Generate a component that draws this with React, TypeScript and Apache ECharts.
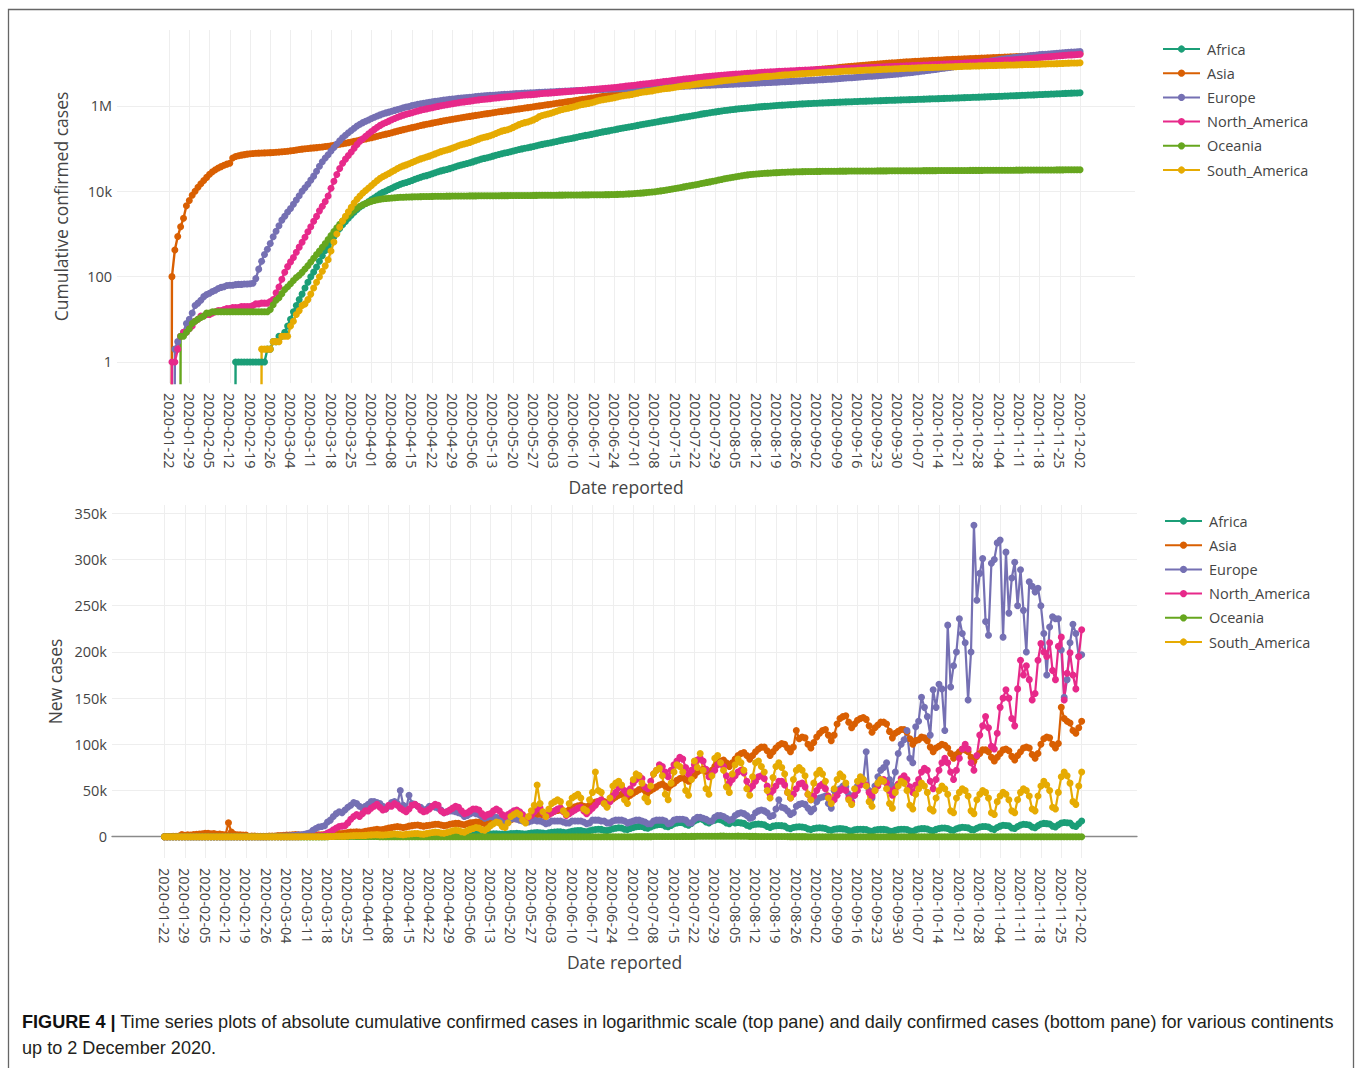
import { useEffect, useRef } from "react";
import * as echarts from "echarts";

// ---------- categories ----------
const START_UTC = Date.UTC(2020, 0, 22); // 2020-01-22
const N_DAYS = 316; // 2020-01-22 .. 2020-12-02
const PAD_BEFORE = 18;
const PAD_AFTER = 19;

const continents = ["Africa", "Asia", "Europe", "North_America", "Oceania", "South_America"];
const palette = ["#1b9e77", "#d95f02", "#7570b3", "#e7298a", "#66a61e", "#e6ab02"];

// ---------- daily new confirmed cases (one row = one week, Wed..Tue) ----------
const africaNew = [
  0,0,0,0,0,0,0,
  0,0,0,0,0,0,0,
  0,0,0,0,0,0,0,
  0,0,1,0,0,0,0,
  0,0,0,0,0,0,1,
  0,1,0,1,0,1,2,
  3,5,6,8,10,15,20,
  25,30,40,60,80,100,120,
  150,180,220,260,300,330,380,
  420,480,500,520,480,450,550,
  650,700,800,850,750,700,800,
  850,900,950,900,800,750,850,
  1000,1100,1200,1150,1000,900,1100,
  1300,1400,1500,1450,1300,1200,1400,
  1700,1900,2000,1900,1700,1600,1900,
  2300,2600,2700,2600,2300,2100,2500,
  2900,3100,3200,3000,2800,2600,3000,
  3400,3600,3800,3600,3300,3000,3500,
  4000,4300,4500,4400,4000,3600,4200,
  4800,5200,5500,5300,4700,4400,5200,
  6000,6400,6800,6600,5800,5400,6400,
  7200,7800,8200,8000,7000,6600,7600,
  8600,9200,9700,9400,8200,7800,9000,
  10000,10800,11200,11000,9800,9200,10500,
  12000,12800,13200,13000,11500,10800,12200,
  14000,14800,15500,15200,13500,12500,14500,
  17000,18500,19500,18500,16000,15000,17000,
  18000,19000,18500,17000,15000,14000,16000,
  15000,15500,15000,14500,12500,11500,13000,
  13500,13800,13500,13000,11000,10000,11500,
  12000,12200,12000,11500,9500,8800,10000,
  10500,10800,10500,10000,8500,7800,9000,
  9500,9800,9500,9000,7500,7000,8200,
  8500,8800,8500,8200,6800,6200,7500,
  8000,8200,8000,7800,6400,6000,7200,
  7800,8000,8000,7600,6200,5800,7000,
  7800,8200,8200,7800,6400,6000,7400,
  8400,8800,8800,8400,7000,6500,8000,
  9000,9500,9400,9000,7400,7000,8600,
  9600,10200,10000,9600,8000,7500,9200,
  10500,11000,11000,10500,8600,8000,10000,
  11500,12500,12200,11800,9500,9000,11000,
  12800,13500,13200,12800,10500,9800,12000,
  13800,14500,14200,13800,11500,10500,13000,
  14800,15500,15200,14800,12000,11000,14000,
  17000,
];

const asiaNew = [
  0,100,320,450,610,850,2270,
  1500,2000,1900,2400,2700,2900,3200,
  3800,3700,3200,3400,2600,3000,2500,
  2000,15100,5100,2700,2100,2100,1900,
  1800,600,900,700,600,500,500,
  600,700,800,900,1200,1300,1500,
  1800,1900,2200,2400,2200,1900,1700,
  1600,1500,1600,1800,2000,2200,2500,
  2800,3000,3400,3800,3600,3500,3900,
  4500,5000,5200,5500,5000,5200,5800,
  6500,7000,7500,8000,7500,7800,8500,
  9500,10000,10500,11000,10500,10000,10500,
  11500,12000,12500,12800,12000,11500,12000,
  12500,13000,13500,13500,12800,12000,12500,
  13500,14000,14500,14500,13500,13000,14000,
  15000,15500,16000,16000,15000,14500,15500,
  16500,17000,17500,17500,16500,16000,17000,
  18500,19500,20500,21000,20000,19500,20500,
  22000,23000,24000,24500,23500,23000,24500,
  26000,27500,28500,29000,28000,27500,29000,
  31000,32500,33500,34000,33000,32500,34000,
  36000,37500,38500,39000,38000,37000,39000,
  41000,43000,45000,46000,44000,43000,45000,
  47000,49000,51000,52000,50000,48000,50000,
  52000,54000,56000,57000,55000,53000,56000,
  58000,61000,63000,64000,62000,60000,63000,
  66000,70000,72000,73000,71000,68000,72000,
  76000,80000,82000,83000,80000,76000,80000,
  84000,88000,90000,91000,88000,84000,88000,
  92000,95000,97000,97000,93000,88000,92000,
  96000,99000,101000,100000,96000,92000,97000,
  115000,106000,108000,107000,100000,96000,102000,
  108000,112000,115000,116000,110000,104000,110000,
  122000,128000,130000,131000,124000,118000,122000,
  126000,128000,129000,127000,120000,113000,118000,
  121000,124000,124000,122000,114000,107000,112000,
  114000,116000,116000,113000,106000,100000,104000,
  105000,108000,107000,104000,97000,92000,96000,
  98000,100000,99000,96000,90000,85000,89000,
  92000,95000,94000,92000,86000,82000,87000,
  90000,94000,94000,92000,86000,82000,86000,
  90000,94000,95000,93000,87000,83000,88000,
  92000,96000,97000,96000,89000,85000,90000,
  100000,106000,108000,107000,100000,96000,101000,
  140000,128000,125000,123000,115000,112000,118000,
  125000,
];

const europeNew = [
  0,0,2,1,1,1,3,
  2,4,7,3,4,6,4,
  3,4,3,5,3,2,4,
  1,0,2,1,0,1,0,
  1,2,20,60,80,100,110,
  160,260,300,400,550,500,650,
  700,1000,1300,1600,2200,2000,2600,
  3600,4400,7000,9000,10500,11000,12000,
  16000,18000,22000,25000,27000,26000,29000,
  32000,34000,37000,36000,33000,31000,33000,
  35000,38000,38000,37000,36000,33000,30000,
  33000,37000,38000,36000,50000,34000,30000,
  45000,36000,35000,33000,32000,28000,30000,
  33000,33000,32000,31000,29000,26000,27000,
  28000,28000,27000,26000,25000,22000,23000,
  25000,26000,25000,24000,22000,20000,21000,
  22000,21000,21000,20000,19000,17000,18000,
  19000,20000,19000,18000,17000,16000,16000,
  17000,18000,17000,17000,16000,14000,15000,
  17000,17000,17000,17000,16000,15000,15000,
  17000,17000,17000,17000,16000,14000,15000,
  18000,18000,18000,17000,17000,15000,15000,
  17000,18000,18000,18000,17000,15000,16000,
  17000,18000,18000,17000,16000,14000,14000,
  17000,18000,18000,18000,17000,14000,15000,
  18000,19000,19000,19000,18000,15000,15000,
  19000,21000,21000,20000,19000,17000,17000,
  21000,23000,23000,22000,20000,18000,19000,
  23000,25000,26000,25000,23000,20000,21000,
  26000,28000,29000,28000,26000,22000,23000,
  30000,40000,32000,31000,28000,24000,26000,
  33000,35000,36000,35000,31000,27000,30000,
  38000,42000,43000,44000,36000,31000,50000,
  48000,52000,55000,54000,46000,38000,45000,
  55000,60000,62000,92000,50000,42000,55000,
  65000,72000,75000,80000,62000,55000,70000,
  90000,100000,105000,115000,85000,80000,119000,
  125000,151000,140000,130000,110000,159000,140000,
  165000,160000,115000,229000,162000,185000,200000,
  236000,220000,210000,148000,200000,337000,256000,
  285000,301000,233000,218000,296000,300000,318000,
  321000,216000,308000,242000,280000,297000,250000,
  289000,245000,200000,276000,271000,265000,269000,
  250000,220000,175000,227000,238000,236000,236000,
  202000,151000,170000,210000,230000,220000,195000,
  197000,
];

const northAmericaNew = [
  0,1,0,1,2,1,0,
  1,1,2,1,2,0,1,
  0,1,1,1,0,1,1,
  0,1,0,0,1,0,0,
  0,1,2,0,1,0,0,
  2,3,13,15,30,40,45,
  50,60,90,120,150,200,290,
  350,500,600,900,1000,1300,2000,
  4000,5500,7500,9500,11000,11500,12000,
  15000,19000,22000,24000,22000,25000,28000,
  28000,31000,33000,35000,32000,29000,30000,
  34000,33000,36000,34000,31000,29000,27000,
  30000,34000,35000,33000,29000,27000,28000,
  30000,33000,35000,34000,28000,26000,27000,
  29000,31000,33000,32000,28000,25000,26000,
  28000,30000,30000,29000,25000,22000,24000,
  25000,28000,30000,28000,24000,22000,24000,
  26000,28000,29000,27000,24000,21000,21000,
  23000,27000,30000,31000,26000,22000,24000,
  26000,28000,30000,31000,27000,23000,25000,
  27000,29000,31000,32000,28000,25000,28000,
  31000,34000,38000,40000,36000,33000,38000,
  44000,48000,53000,55000,50000,46000,52000,
  58000,62000,66000,63000,54000,52000,60000,
  68000,72000,78000,76000,70000,65000,72000,
  78000,82000,86000,84000,75000,68000,72000,
  78000,83000,85000,82000,73000,65000,68000,
  72000,78000,80000,76000,66000,58000,62000,
  66000,70000,72000,69000,60000,52000,55000,
  60000,65000,66000,63000,55000,46000,50000,
  55000,60000,60000,56000,48000,42000,46000,
  52000,57000,58000,54000,46000,40000,44000,
  50000,55000,57000,52000,44000,38000,40000,
  45000,50000,52000,50000,42000,37000,45000,
  50000,56000,58000,56000,48000,44000,50000,
  55000,60000,62000,58000,50000,45000,52000,
  57000,63000,66000,62000,54000,48000,56000,
  62000,70000,74000,72000,60000,52000,62000,
  72000,80000,85000,80000,70000,62000,72000,
  85000,95000,100000,95000,80000,72000,88000,
  110000,120000,130000,118000,98000,95000,112000,
  140000,150000,159000,150000,128000,120000,160000,
  191000,175000,185000,170000,148000,155000,191000,
  209000,200000,195000,210000,180000,170000,206000,
  216000,148000,177000,199000,175000,160000,195000,
  224000,
];

const oceaniaNew = [
  0,0,0,0,4,0,1,
  1,2,1,1,1,1,2,
  0,1,0,0,0,0,0,
  0,0,0,0,0,0,0,
  0,0,0,0,0,0,0,
  2,5,6,4,8,10,8,
  10,13,15,12,18,25,30,
  40,50,60,70,90,110,140,
  180,220,250,300,330,350,380,
  420,450,440,400,380,350,330,
  300,270,230,200,150,120,110,
  100,90,80,60,50,40,40,
  40,40,35,30,30,25,25,
  25,20,20,18,15,15,15,
  15,15,15,12,12,10,12,
  12,12,10,10,8,8,10,
  10,12,10,10,8,8,10,
  12,12,10,10,10,8,10,
  12,14,12,10,10,10,12,
  12,14,12,12,10,10,12,
  14,16,15,14,12,12,15,
  15,15,18,20,15,15,20,
  30,40,50,60,60,70,80,
  90,100,110,120,130,140,150,
  180,200,230,250,270,280,290,
  320,340,360,380,370,360,380,
  420,450,480,500,500,480,500,
  560,620,660,650,600,560,540,
  580,650,620,580,500,420,380,
  380,360,320,300,280,260,240,
  230,220,200,190,170,150,140,
  130,120,110,100,90,80,70,
  70,60,60,55,50,45,45,
  40,40,35,35,30,30,35,
  35,30,30,30,25,25,30,
  30,30,25,25,25,20,25,
  25,30,30,25,20,20,25,
  25,30,25,25,20,20,25,
  30,30,30,25,25,20,25,
  25,30,30,25,20,20,25,
  25,30,30,30,25,20,25,
  30,30,35,30,25,25,30,
  30,35,35,30,25,25,30,
  30,35,35,30,30,25,30,
  35,35,35,30,30,25,30,
  30,
];

const southAmericaNew = [
  0,0,0,0,0,0,0,
  0,0,0,0,0,0,0,
  0,0,0,0,0,0,0,
  0,0,0,0,0,0,0,
  0,0,0,0,2,0,0,
  0,1,0,0,1,0,0,
  3,2,4,3,5,2,6,
  10,15,20,25,35,45,70,
  150,250,350,450,550,600,700,
  900,1100,1200,1300,1300,1300,1500,
  1800,2000,2200,2300,2000,1800,2100,
  2500,2700,2900,2800,2400,2200,2600,
  3000,3300,3600,3500,3000,2800,3400,
  4000,4500,5000,4800,4000,3800,4600,
  5500,6500,7000,6800,5500,5000,6500,
  8000,9000,10000,9500,7500,7000,9000,
  12000,14000,16000,15000,11000,10000,15000,
  22000,24000,26000,24000,18000,15000,22000,
  28000,34000,56000,36000,27000,22000,30000,
  36000,38000,40000,38000,28000,24000,36000,
  42000,44000,46000,42000,30000,28000,40000,
  48000,70000,50000,48000,36000,32000,42000,
  55000,58000,60000,56000,40000,36000,48000,
  62000,68000,66000,58000,42000,38000,55000,
  68000,72000,74000,66000,46000,40000,58000,
  70000,78000,76000,70000,50000,45000,62000,
  82000,75000,90000,72000,52000,46000,66000,
  85000,88000,80000,72000,54000,48000,68000,
  78000,84000,80000,72000,52000,45000,65000,
  80000,82000,76000,70000,50000,42000,64000,
  76000,80000,75000,68000,48000,42000,62000,
  72000,75000,72000,66000,46000,40000,58000,
  68000,72000,68000,60000,42000,36000,52000,
  62000,68000,65000,58000,40000,35000,52000,
  60000,65000,62000,55000,38000,33000,50000,
  58000,62000,60000,52000,36000,31000,48000,
  55000,60000,58000,50000,34000,30000,46000,
  52000,58000,55000,48000,30000,28000,42000,
  50000,55000,52000,46000,28000,26000,42000,
  48000,52000,50000,44000,28000,25000,40000,
  46000,50000,48000,42000,26000,24000,38000,
  44000,48000,46000,40000,28000,26000,40000,
  48000,52000,50000,44000,30000,28000,44000,
  55000,60000,56000,50000,32000,30000,48000,
  65000,70000,66000,58000,38000,35000,55000,
  70000,
];

const newCasesByContinent = [africaNew, asiaNew, europeNew, northAmericaNew, oceaniaNew, southAmericaNew];

const captionBold = "FIGURE 4 |";
const captionText =
  " Time series plots of absolute cumulative confirmed cases in logarithmic scale (top pane) and daily confirmed cases (bottom pane) for various continents";
const captionLine2 = "up to 2 December 2020.";

// ---------- helpers ----------
function buildDates(): string[] {
  const out: string[] = [];
  for (let i = -PAD_BEFORE; i < N_DAYS + PAD_AFTER; i++) {
    out.push(new Date(START_UTC + i * 86400000).toISOString().slice(0, 10));
  }
  return out;
}
const isWeeklyTick = (idx: number) => {
  const k = idx - PAD_BEFORE;
  return k >= 0 && k < N_DAYS && k % 7 === 0;
};
const LOG_ZERO = 1e-30; // zero drawn far below the visible log range (clipped), as plotly does

const AXIS_FONT = { fontFamily: "Open Sans", fontSize: 14.5, color: "#444" };
const TITLE_FONT = { fontFamily: "Open Sans", fontSize: 17.5, color: "#444" };
const GRID_LINE = { color: "#eeeeee", width: 1 };

function buildOption() {
  const dates = buildDates();
  const pad = new Array(PAD_BEFORE).fill(null);

  const topSeries = continents.map((name, i) => {
    let c = 0;
    const cum = newCasesByContinent[i].map((v) => {
      c += v;
      return c > 0 ? c : LOG_ZERO;
    });
    return {
      name,
      type: "line",
      xAxisIndex: 0,
      yAxisIndex: 0,
      data: [...pad, ...cum],
      symbol: "circle",
      symbolSize: 7,
      showAllSymbol: true,
      clip: true,
      lineStyle: { width: 2.4, color: palette[i] },
      itemStyle: { color: palette[i], borderWidth: 0 },
      emphasis: { disabled: true },
    };
  });

  const bottomSeries = continents.map((name, i) => ({
    name,
    type: "line",
    xAxisIndex: 1,
    yAxisIndex: 1,
    data: [...pad, ...newCasesByContinent[i]],
    symbol: "circle",
    symbolSize: 7,
    showAllSymbol: true,
    clip: true,
    lineStyle: { width: 2.2, color: palette[i] },
    itemStyle: { color: palette[i], borderWidth: 0 },
    emphasis: { disabled: true },
  }));

  const xAxisBase = {
    type: "category",
    data: dates,
    boundaryGap: false,
    axisTick: { show: false },
    splitLine: { show: true, interval: (i: number) => isWeeklyTick(i), lineStyle: GRID_LINE },
    name: "Date reported",
    nameLocation: "middle",
    nameTextStyle: TITLE_FONT,
  };

  const legendBase = {
    orient: "vertical",
    data: continents,
    itemWidth: 37,
    itemHeight: 9,
    itemGap: 8.2,
    padding: 0,
    selectedMode: false,
    textStyle: { ...AXIS_FONT, lineHeight: 16, padding: [0, 0, 0, 2] },
  };

  const fmtLog = (v: number) => {
    if (v >= 1e6) return Math.round(v / 1e6) + "M";
    if (v >= 1e3) return Math.round(v / 1e3) + "k";
    return String(Math.round(v));
  };

  return {
    animation: false,
    backgroundColor: "#ffffff",
    textStyle: { fontFamily: "Open Sans" },
    grid: [
      { left: 117, right: 223, top: 30, height: 353 },
      { left: 112, right: 221, top: 505, height: 353 },
    ],
    xAxis: [
      {
        ...xAxisBase,
        gridIndex: 0,
        axisLine: { show: false },
        axisLabel: { ...AXIS_FONT, rotate: -90, margin: 10, interval: (i: number) => isWeeklyTick(i) },
        nameGap: 95,
      },
      {
        ...xAxisBase,
        gridIndex: 1,
        axisLine: { show: true, onZero: true, lineStyle: { color: "#8a8a8a", width: 1.3 } },
        axisLabel: { ...AXIS_FONT, rotate: -90, margin: 10, interval: (i: number) => isWeeklyTick(i) },
        nameGap: 95,
      },
    ],
    yAxis: [
      {
        type: "log",
        logBase: 100,
        gridIndex: 0,
        min: 0.322,
        max: 6.03e7,
        axisLine: { show: false },
        axisTick: { show: false },
        axisLabel: { ...AXIS_FONT, margin: 5, formatter: fmtLog, showMinLabel: false, showMaxLabel: false },
        splitLine: { show: true, lineStyle: GRID_LINE, showMinLine: false, showMaxLine: false },
        name: "Cumulative confirmed cases",
        nameLocation: "middle",
        nameGap: 47,
        nameTextStyle: TITLE_FONT,
      },
      {
        type: "value",
        gridIndex: 1,
        min: -23000,
        max: 359000,
        splitNumber: 8,
        minInterval: 50000,
        maxInterval: 50000,
        axisLine: { show: false },
        axisTick: { show: false },
        axisLabel: {
          ...AXIS_FONT,
          margin: 5,
          showMinLabel: false,
          showMaxLabel: false,
          formatter: (v: number) => (v === 0 ? "0" : v / 1000 + "k"),
        },
        splitLine: { show: true, lineStyle: GRID_LINE, showMinLine: false, showMaxLine: false },
        name: "New cases",
        nameLocation: "middle",
        nameGap: 47,
        nameTextStyle: TITLE_FONT,
      },
    ],
    legend: [
      { ...legendBase, left: 1162, top: 41 },
      { ...legendBase, left: 1164, top: 513 },
    ],
    graphic: [
      {
        type: "rect",
        silent: true,
        z: -10,
        shape: { x: 8.5, y: 9.5, width: 1345, height: 1100 },
        style: { fill: "none", stroke: "#666666", lineWidth: 1.3 },
      },
      {
        type: "text",
        silent: true,
        x: 22,
        y: 1009,
        style: {
          text: "{b|" + captionBold + "}" + captionText + "\n" + captionLine2,
          fontFamily: "Liberation Sans",
          fontSize: 18.1,
          lineHeight: 26,
          fill: "#231f20",
          verticalAlign: "top",
          rich: {
            b: { fontFamily: "Liberation Sans", fontSize: 18.1, fontWeight: "bold", lineHeight: 26, fill: "#111111" },
          },
        },
      },
    ],
    series: [...topSeries, ...bottomSeries],
  };
}

export default function App() {
  const ref = useRef<HTMLDivElement>(null);
  useEffect(() => {
    if (!ref.current) return;
    const chart = echarts.init(ref.current, undefined, { renderer: "svg" });
    chart.setOption(buildOption() as any);
    return () => chart.dispose();
  }, []);
  return (
    <div
      ref={ref}
      style={{ position: "fixed", left: 0, top: 0, width: 1358, height: 1068, background: "#ffffff" }}
    />
  );
}
